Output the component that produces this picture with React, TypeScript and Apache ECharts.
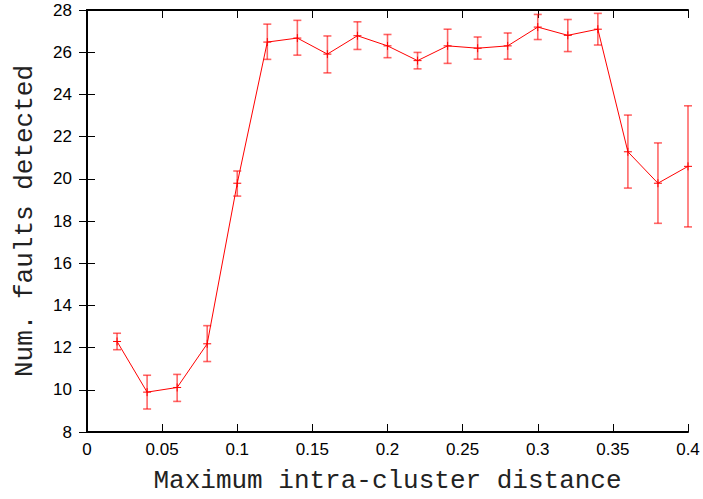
import React, { useEffect, useRef } from "react";
import * as echarts from "echarts";

const xValues = [0.02, 0.04, 0.06, 0.08, 0.1, 0.12, 0.14, 0.16, 0.18, 0.2, 0.22, 0.24, 0.26, 0.28, 0.3, 0.32, 0.34, 0.36, 0.38, 0.4];
const means = [12.29, 9.89, 10.11, 12.18, 19.79, 26.48, 26.67, 25.91, 26.78, 26.3, 25.6, 26.3, 26.19, 26.3, 27.19, 26.8, 27.09, 21.28, 19.79, 20.59];
const lows = [11.9, 9.09, 9.45, 11.34, 19.18, 25.66, 25.86, 25.02, 26.13, 25.74, 25.21, 25.47, 25.67, 25.67, 26.6, 26.03, 26.34, 19.56, 17.89, 17.72];
const highs = [12.68, 10.69, 10.73, 13.04, 20.37, 27.33, 27.51, 26.77, 27.44, 26.84, 25.99, 27.09, 26.72, 26.91, 27.79, 27.55, 27.84, 23.02, 21.7, 23.46];

const xTitle = "Maximum intra-cluster distance";
const yTitle = "Num. faults detected";

export default function App() {
  const ref = useRef<HTMLDivElement>(null);
  useEffect(() => {
    if (!ref.current) return;
    const chart = echarts.init(ref.current, null, { renderer: "svg" });
    const lineData = xValues.map((x, i) => [x, means[i]]);
    const errData = xValues.map((x, i) => [x, lows[i], highs[i], means[i]]);
    const axisLineStyle = { color: "#000", width: 2 };
    const tickStyle = { color: "#000", width: 1 };
    const labelFont = { fontFamily: "Liberation Sans", fontSize: 17, color: "#000" };
    const xBase = {
      type: "value" as const,
      min: 0,
      max: 0.4,
      interval: 0.05,
      splitLine: { show: false },
      axisLine: { show: true, lineStyle: axisLineStyle },
      axisTick: { show: true, inside: true, length: 8, lineStyle: tickStyle },
    };
    const yBase = {
      type: "value" as const,
      min: 8,
      max: 28,
      interval: 2,
      splitLine: { show: false },
      axisLine: { show: true, lineStyle: axisLineStyle },
      axisTick: { show: true, inside: true, length: 8, lineStyle: tickStyle },
    };
    chart.setOption({
      animation: false,
      backgroundColor: "#fff",
      grid: { left: 87, right: 15, top: 10, bottom: 61, containLabel: false },
      xAxis: [
        {
          ...xBase,
          position: "bottom",
          axisLabel: { ...labelFont, margin: 9, formatter: (v: number) => String(+v.toFixed(2)) },
          name: xTitle,
          nameLocation: "middle",
          nameGap: 36,
          nameTextStyle: { fontFamily: "Liberation Mono", fontSize: 26, color: "#222" },
        },
        { ...xBase, position: "top", axisLabel: { show: false } },
      ],
      yAxis: [
        {
          ...yBase,
          position: "left",
          axisLabel: { ...labelFont, margin: 15 },
          name: yTitle,
          nameLocation: "middle",
          nameGap: 49,
          nameTextStyle: { fontFamily: "Liberation Mono", fontSize: 26, color: "#222" },
        },
        { ...yBase, position: "right", axisLabel: { show: false } },
      ],
      series: [
        {
          type: "line",
          data: lineData,
          xAxisIndex: 0,
          yAxisIndex: 0,
          symbol: "none",
          lineStyle: { color: "#ff0000", width: 1 },
          z: 3,
        },
        {
          type: "custom",
          xAxisIndex: 0,
          yAxisIndex: 0,
          clip: false,
          z: 4,
          data: errData,
          renderItem: (params: any, api: any) => {
            const x = api.value(0);
            const lo = api.coord([x, api.value(1)]);
            const hi = api.coord([x, api.value(2)]);
            const mid = api.coord([x, api.value(3)]);
            const cap = 4;
            const barStyle = { stroke: "rgba(255,0,0,0.6)", lineWidth: 1.6 };
            const mk = 4;
            const mkStyle = { stroke: "#ff0000", lineWidth: 1 };
            return {
              type: "group",
              children: [
                { type: "line", shape: { x1: lo[0], y1: lo[1], x2: hi[0], y2: hi[1] }, style: barStyle },
                { type: "line", shape: { x1: lo[0] - cap, y1: lo[1], x2: lo[0] + cap, y2: lo[1] }, style: barStyle },
                { type: "line", shape: { x1: hi[0] - cap, y1: hi[1], x2: hi[0] + cap, y2: hi[1] }, style: barStyle },
                { type: "line", shape: { x1: mid[0] - mk, y1: mid[1], x2: mid[0] + mk, y2: mid[1] }, style: mkStyle },
                { type: "line", shape: { x1: mid[0], y1: mid[1] - mk, x2: mid[0], y2: mid[1] + mk }, style: mkStyle },
              ],
            };
          },
        },
      ],
    });
    return () => chart.dispose();
  }, []);
  return <div ref={ref} style={{ position: "fixed", left: 0, top: 0, width: 703, height: 499 }} />;
}
